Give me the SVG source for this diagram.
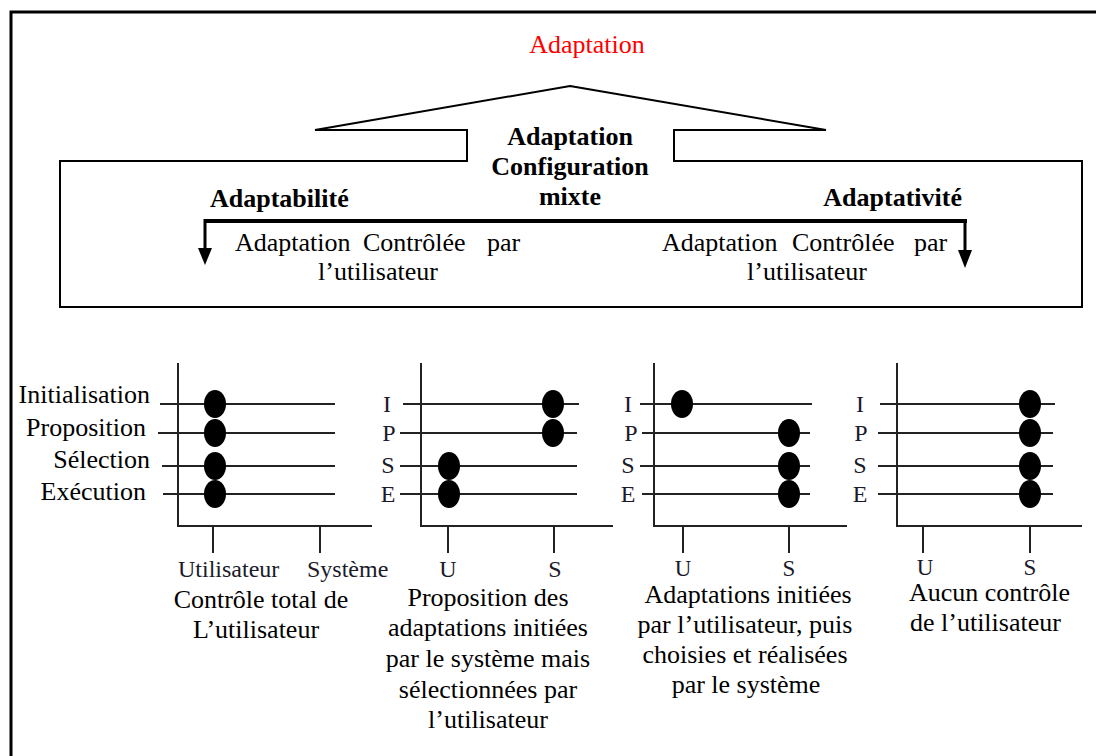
<svg xmlns="http://www.w3.org/2000/svg" width="1096" height="756" viewBox="0 0 1096 756">
<style>
text{font-family:"Liberation Serif","Times New Roman",serif;fill:#000}
.t26{font-size:26px}
.b26{font-size:26px;font-weight:bold}
.t24{font-size:24px;fill:#1a1a2a}
.t23{font-size:23px;fill:#1a1a2a}
.red{fill:#ff0000}
.mid{text-anchor:middle}
.end{text-anchor:end}
.ln{stroke:#000;stroke-width:2;fill:none}
.ax{stroke:#222;stroke-width:2;fill:none}
.dot{fill:#000}
</style>
<rect x="0" y="0" width="1096" height="756" fill="#fff"/>
<rect id="frame" x="11" y="12" width="1100" height="760" fill="none" stroke="#000" stroke-width="3"/>

<g id="title">
<text class="t26 red mid" x="587" y="53">Adaptation</text>
</g>

<g id="house">
<path class="ln" d="M570,86 L826,130 L674,130 L674,161 L1082,161 L1082,307 L60,307 L60,161 L467,161 L467,130 L315,130 Z"/>
<text class="b26 mid" x="570" y="145">Adaptation</text>
<text class="b26 mid" x="570" y="175">Configuration</text>
<text class="b26 mid" x="570" y="205">mixte</text>
<text class="b26" x="210" y="207">Adaptabilité</text>
<text class="b26 end" x="962" y="206">Adaptativité</text>
<text class="t26" x="235" y="251">Adaptation</text>
<text class="t26" x="363" y="251">Contrôlée</text>
<text class="t26" x="487" y="251">par</text>
<text class="t26 mid" x="378" y="280">l’utilisateur</text>
<text class="t26" x="662" y="251">Adaptation</text>
<text class="t26" x="792" y="251">Contrôlée</text>
<text class="t26" x="914" y="251">par</text>
<text class="t26 mid" x="807" y="280">l’utilisateur</text>
</g>

<g id="connectors">
<path d="M205,221 L967,221" stroke="#000" stroke-width="4" fill="none"/>
<path d="M205,219 L205,250" stroke="#000" stroke-width="3" fill="none"/>
<path d="M198,248 L212,248 L205,265 Z" fill="#000"/>
<path d="M965,219 L965,252" stroke="#000" stroke-width="3" fill="none"/>
<path d="M958,250 L972,250 L965,268 Z" fill="#000"/>
</g>

<g id="chart1">
<path class="ax" d="M178,363 L178,526 L372,526 M213,526 L213,553 M320,526 L320,553"/>
<path class="ax" d="M160,404 L335,404 M158,433 L335,433 M162,466 L335,466 M163,494 L335,494"/>
<ellipse class="dot" cx="215" cy="404" rx="11" ry="14"/>
<ellipse class="dot" cx="215" cy="433" rx="11" ry="14"/>
<ellipse class="dot" cx="215" cy="466" rx="11" ry="14"/>
<ellipse class="dot" cx="215" cy="494" rx="11" ry="14"/>
<text class="t26 end" x="150" y="403">Initialisation</text>
<text class="t26 end" x="146" y="436">Proposition</text>
<text class="t26 end" x="150" y="468">Sélection</text>
<text class="t26 end" x="146" y="500">Exécution</text>
<text class="t24" x="178" y="577">Utilisateur</text>
<text class="t24" x="307" y="577">Système</text>
<text class="t26 mid" x="261" y="608">Contrôle total de</text>
<text class="t26 mid" x="256" y="638">L’utilisateur</text>
</g>

<g id="chart2">
<path class="ax" d="M421,363 L421,526 L613,526 M448,526 L448,553 M554,526 L554,553"/>
<path class="ax" d="M403,404 L579,404 M400,433 L577,433 M400,466 L577,466 M400,494 L577,494"/>
<ellipse class="dot" cx="553" cy="404" rx="11" ry="14"/>
<ellipse class="dot" cx="553" cy="433" rx="11" ry="14"/>
<ellipse class="dot" cx="449" cy="466" rx="11" ry="14"/>
<ellipse class="dot" cx="449" cy="494" rx="11" ry="14"/>
<text class="t24 mid" x="387" y="412">I</text>
<text class="t24 mid" x="389" y="441">P</text>
<text class="t24 mid" x="388" y="473">S</text>
<text class="t24 mid" x="388" y="502">E</text>
<text class="t24 mid" x="448" y="577">U</text>
<text class="t24 mid" x="555" y="577">S</text>
<text class="t26 mid" x="488" y="606">Proposition des</text>
<text class="t26 mid" x="488" y="636">adaptations initiées</text>
<text class="t26 mid" x="488" y="667">par le système mais</text>
<text class="t26 mid" x="488" y="698">sélectionnées par</text>
<text class="t26 mid" x="488" y="728">l’utilisateur</text>
</g>

<g id="chart3">
<path class="ax" d="M654,363 L654,526 L847,526 M683,526 L683,553 M789,526 L789,553"/>
<path class="ax" d="M640,404 L812,404 M642,433 L810,433 M640,466 L810,466 M642,494 L810,494"/>
<ellipse class="dot" cx="682" cy="404" rx="11" ry="14"/>
<ellipse class="dot" cx="789" cy="433" rx="11" ry="14"/>
<ellipse class="dot" cx="789" cy="466" rx="11" ry="14"/>
<ellipse class="dot" cx="789" cy="494" rx="11" ry="14"/>
<text class="t24 mid" x="628" y="412">I</text>
<text class="t24 mid" x="631" y="441">P</text>
<text class="t24 mid" x="628" y="473">S</text>
<text class="t24 mid" x="628" y="502">E</text>
<text class="t23 mid" x="683" y="576">U</text>
<text class="t23 mid" x="789" y="576">S</text>
<text class="t26 mid" x="748" y="603">Adaptations initiées</text>
<text class="t26 mid" x="745" y="633">par l’utilisateur, puis</text>
<text class="t26 mid" x="745" y="663">choisies et réalisées</text>
<text class="t26 mid" x="746" y="693">par le système</text>
</g>

<g id="chart4">
<path class="ax" d="M897,363 L897,526 L1082,526 M923,526 L923,553 M1030,526 L1030,553"/>
<path class="ax" d="M880,404 L1055,404 M878,433 L1053,433 M878,466 L1053,466 M878,494 L1053,494"/>
<ellipse class="dot" cx="1030" cy="404" rx="11" ry="14"/>
<ellipse class="dot" cx="1030" cy="433" rx="11" ry="14"/>
<ellipse class="dot" cx="1030" cy="466" rx="11" ry="14"/>
<ellipse class="dot" cx="1030" cy="494" rx="11" ry="14"/>
<text class="t24 mid" x="860" y="412">I</text>
<text class="t24 mid" x="861" y="441">P</text>
<text class="t24 mid" x="860" y="473">S</text>
<text class="t24 mid" x="860" y="502">E</text>
<text class="t23 mid" x="925" y="575">U</text>
<text class="t23 mid" x="1030" y="575">S</text>
<text class="t26" x="909" y="601">Aucun contrôle</text>
<text class="t26" x="910" y="631">de l’utilisateur</text>
</g>
</svg>
